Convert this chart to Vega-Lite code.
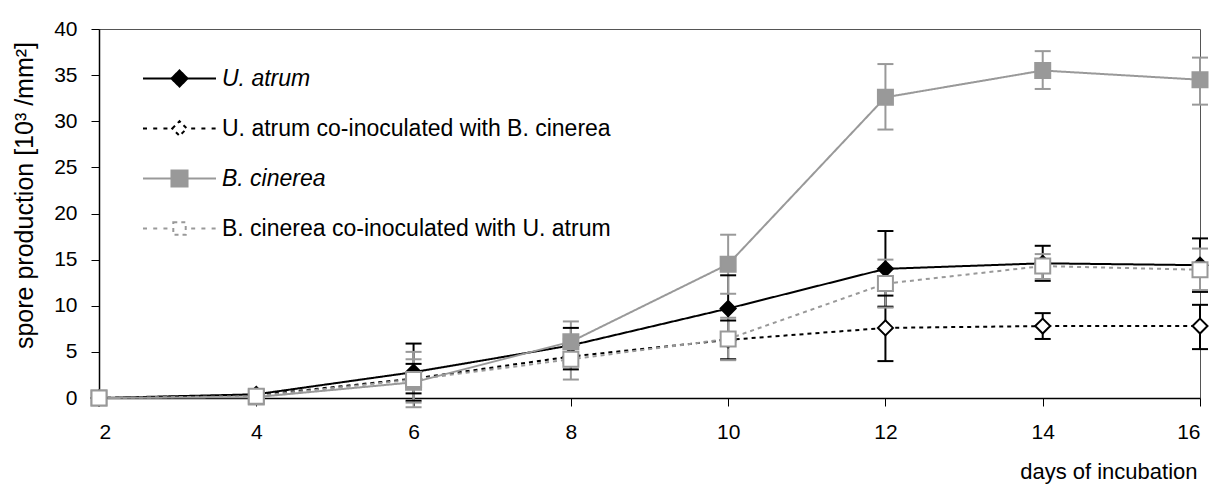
{
  "$schema": "https://vega.github.io/schema/vega-lite/v6.json",
  "width": 1101,
  "height": 369,
  "autosize": {"type": "none"},
  "padding": {"left": 99, "top": 29, "right": 15, "bottom": 88},
  "background": "#ffffff",
  "config": {
    "font": "Liberation Sans",
    "view": {"stroke": "#555555", "strokeWidth": 1},
    "axis": {
      "grid": false,
      "labelFontSize": 21,
      "titleFontSize": 22,
      "labelColor": "#000000",
      "titleColor": "#000000",
      "titleFontWeight": "normal",
      "domainColor": "#000000",
      "tickColor": "#000000",
      "domainWidth": 1.5,
      "tickWidth": 1,
      "tickSize": 8
    }
  },
  "data": {
    "values": [
      {"day": 2, "series": "U. atrum", "organism": "U. atrum", "mean": 0, "lo": 0, "hi": 0},
      {"day": 4, "series": "U. atrum", "organism": "U. atrum", "mean": 0.4, "lo": 0.1, "hi": 0.7},
      {"day": 6, "series": "U. atrum", "organism": "U. atrum", "mean": 2.8, "lo": -0.3, "hi": 5.9},
      {"day": 8, "series": "U. atrum", "organism": "U. atrum", "mean": 5.7, "lo": 3.8, "hi": 7.6},
      {"day": 10, "series": "U. atrum", "organism": "U. atrum", "mean": 9.7, "lo": 6.1, "hi": 13.3},
      {"day": 12, "series": "U. atrum", "organism": "U. atrum", "mean": 14.0, "lo": 9.9, "hi": 18.1},
      {"day": 14, "series": "U. atrum", "organism": "U. atrum", "mean": 14.6, "lo": 12.7, "hi": 16.5},
      {"day": 16, "series": "U. atrum", "organism": "U. atrum", "mean": 14.4, "lo": 11.5, "hi": 17.3},
      {"day": 2, "series": "U. atrum co-inoculated with B. cinerea", "organism": "U. atrum", "mean": 0, "lo": 0, "hi": 0},
      {"day": 4, "series": "U. atrum co-inoculated with B. cinerea", "organism": "U. atrum", "mean": 0.3, "lo": 0.1, "hi": 0.5},
      {"day": 6, "series": "U. atrum co-inoculated with B. cinerea", "organism": "U. atrum", "mean": 2.1, "lo": 0.5, "hi": 3.7},
      {"day": 8, "series": "U. atrum co-inoculated with B. cinerea", "organism": "U. atrum", "mean": 4.5, "lo": 3.1, "hi": 5.9},
      {"day": 10, "series": "U. atrum co-inoculated with B. cinerea", "organism": "U. atrum", "mean": 6.3, "lo": 4.2, "hi": 8.4},
      {"day": 12, "series": "U. atrum co-inoculated with B. cinerea", "organism": "U. atrum", "mean": 7.6, "lo": 4.0, "hi": 11.1},
      {"day": 14, "series": "U. atrum co-inoculated with B. cinerea", "organism": "U. atrum", "mean": 7.8, "lo": 6.4, "hi": 9.2},
      {"day": 16, "series": "U. atrum co-inoculated with B. cinerea", "organism": "U. atrum", "mean": 7.8, "lo": 5.3, "hi": 10.1},
      {"day": 2, "series": "B. cinerea", "organism": "B. cinerea", "mean": 0, "lo": 0, "hi": 0},
      {"day": 4, "series": "B. cinerea", "organism": "B. cinerea", "mean": 0.1, "lo": 0, "hi": 0.2},
      {"day": 6, "series": "B. cinerea", "organism": "B. cinerea", "mean": 1.7, "lo": -0.5, "hi": 4.2},
      {"day": 8, "series": "B. cinerea", "organism": "B. cinerea", "mean": 6.1, "lo": 3.9, "hi": 8.3},
      {"day": 10, "series": "B. cinerea", "organism": "B. cinerea", "mean": 14.5, "lo": 11.3, "hi": 17.7},
      {"day": 12, "series": "B. cinerea", "organism": "B. cinerea", "mean": 32.6, "lo": 29.1, "hi": 36.2},
      {"day": 14, "series": "B. cinerea", "organism": "B. cinerea", "mean": 35.5, "lo": 33.5, "hi": 37.6},
      {"day": 16, "series": "B. cinerea", "organism": "B. cinerea", "mean": 34.5, "lo": 31.8, "hi": 36.9},
      {"day": 2, "series": "B. cinerea co-inoculated with U. atrum", "organism": "B. cinerea", "mean": 0, "lo": 0, "hi": 0},
      {"day": 4, "series": "B. cinerea co-inoculated with U. atrum", "organism": "B. cinerea", "mean": 0.2, "lo": 0, "hi": 0.4},
      {"day": 6, "series": "B. cinerea co-inoculated with U. atrum", "organism": "B. cinerea", "mean": 2.0, "lo": -1.0, "hi": 5.0},
      {"day": 8, "series": "B. cinerea co-inoculated with U. atrum", "organism": "B. cinerea", "mean": 4.2, "lo": 2.0, "hi": 6.4},
      {"day": 10, "series": "B. cinerea co-inoculated with U. atrum", "organism": "B. cinerea", "mean": 6.4, "lo": 4.1, "hi": 8.7},
      {"day": 12, "series": "B. cinerea co-inoculated with U. atrum", "organism": "B. cinerea", "mean": 12.4, "lo": 9.8, "hi": 15.0},
      {"day": 14, "series": "B. cinerea co-inoculated with U. atrum", "organism": "B. cinerea", "mean": 14.3, "lo": 12.9, "hi": 15.6},
      {"day": 16, "series": "B. cinerea co-inoculated with U. atrum", "organism": "B. cinerea", "mean": 13.9, "lo": 11.7, "hi": 16.2}
    ]
  },
  "encoding": {
    "x": {
      "field": "day",
      "type": "quantitative",
      "scale": {"domain": [2, 16], "nice": false, "zero": false},
      "axis": {
        "values": [2, 4, 6, 8, 10, 12, 14, 16],
        "title": "days of incubation",
        "labelPadding": 15,
        "titleAnchor": "end",
        "titleAlign": "right",
        "titleX": 1098,
        "titleY": 80,
        "titleBaseline": "alphabetic"
      }
    }
  },
  "layer": [
    {
      "mark": {"type": "rule", "strokeWidth": 2},
      "encoding": {
        "y": {
          "field": "lo",
          "type": "quantitative",
          "scale": {"domain": [0, 40], "nice": false},
          "axis": {
            "values": [0, 5, 10, 15, 20, 25, 30, 35, 40],
            "title": "spore production [10³ /mm²]",
            "titleFontSize": 25,
            "labelPadding": 14,
            "titleAngle": 270,
            "titleAlign": "center",
            "titleBaseline": "middle",
            "titleX": -75,
            "titleY": 166
          }
        },
        "y2": {"field": "hi"},
        "color": {
          "field": "organism",
          "type": "nominal",
          "scale": {"domain": ["U. atrum", "B. cinerea"], "range": ["#000000", "#999999"]},
          "legend": null
        }
      }
    },
    {
      "mark": {"type": "tick", "orient": "horizontal", "size": 16, "thickness": 2, "opacity": 1},
      "encoding": {
        "y": {"field": "lo", "type": "quantitative"},
        "color": {"field": "organism", "type": "nominal", "legend": null}
      }
    },
    {
      "mark": {"type": "tick", "orient": "horizontal", "size": 16, "thickness": 2, "opacity": 1},
      "encoding": {
        "y": {"field": "hi", "type": "quantitative"},
        "color": {"field": "organism", "type": "nominal", "legend": null}
      }
    },
    {
      "mark": {"type": "line", "strokeWidth": 2},
      "encoding": {
        "y": {"field": "mean", "type": "quantitative"},
        "stroke": {
          "field": "series",
          "type": "nominal",
          "scale": {
            "domain": ["U. atrum", "U. atrum co-inoculated with B. cinerea", "B. cinerea", "B. cinerea co-inoculated with U. atrum"],
            "range": ["#000000", "#000000", "#999999", "#999999"]
          },
          "legend": {
            "title": null,
            "orient": "none",
            "legendX": 43,
            "legendY": 12,
            "padding": 0,
            "symbolSize": 400,
            "symbolStrokeWidth": 2,
            "labelFontSize": 23,
            "labelColor": "#000000",
            "labelOffset": 5,
            "rowPadding": 0,
            "labelLimit": 800,
            "encode": {
              "symbols": {
                "update": {
                  "size": {"value": 5329},
                  "strokeDash": {"value": [1, 0]},
                  "opacity": {"value": 1},
                  "shape": {"signal": "datum.value === 'U. atrum' ? 'M-1,0L-0.2,0M0.2,0L1,0M-0.22,0L0,-0.22L0.22,0L0,0.22Z' : datum.value === 'B. cinerea' ? 'M-1,0L-0.22,0M0.22,0L1,0M-0.22,-0.22L0.22,-0.22L0.22,0.22L-0.22,0.22Z' : datum.value === 'U. atrum co-inoculated with B. cinerea' ? 'M-1,0L-0.88,0M-0.72,0L-0.6,0M-0.44,0L-0.32,0M0.32,0L0.44,0M0.6,0L0.72,0M0.88,0L1,0M-0.2,0L0,-0.2L0.2,0L0,0.2Z' : 'M-1,0L-0.88,0M-0.72,0L-0.6,0M-0.44,0L-0.32,0M0.32,0L0.44,0M0.6,0L0.72,0M0.88,0L1,0M-0.17,-0.17L0.17,-0.17L0.17,0.17L-0.17,0.17Z'"}
                }
              },
              "labels": {
                "update": {
                  "fontStyle": {"signal": "indexof(datum.label, 'co-') >= 0 ? 'normal' : 'italic'"}
                }
              }
            }
          }
        },
        "strokeDash": {
          "field": "series",
          "type": "nominal",
          "scale": {
            "domain": ["U. atrum", "U. atrum co-inoculated with B. cinerea", "B. cinerea", "B. cinerea co-inoculated with U. atrum"],
            "range": [[1, 0], [4, 4], [1, 0], [4, 4]]
          }
        }
      }
    },
    {
      "mark": {"type": "point", "filled": true, "strokeWidth": 2, "size": 225, "opacity": 1},
      "encoding": {
        "y": {"field": "mean", "type": "quantitative"},
        "shape": {
          "field": "organism",
          "type": "nominal",
          "scale": {"domain": ["U. atrum", "B. cinerea"], "range": ["diamond", "square"]},
          "legend": null
        },
        "stroke": {"field": "series", "type": "nominal"},
        "fill": {
          "field": "series",
          "type": "nominal",
          "scale": {
            "domain": ["U. atrum", "U. atrum co-inoculated with B. cinerea", "B. cinerea", "B. cinerea co-inoculated with U. atrum"],
            "range": ["#000000", "#ffffff", "#999999", "#ffffff"]
          }
        }
      }
    }
  ]
}
